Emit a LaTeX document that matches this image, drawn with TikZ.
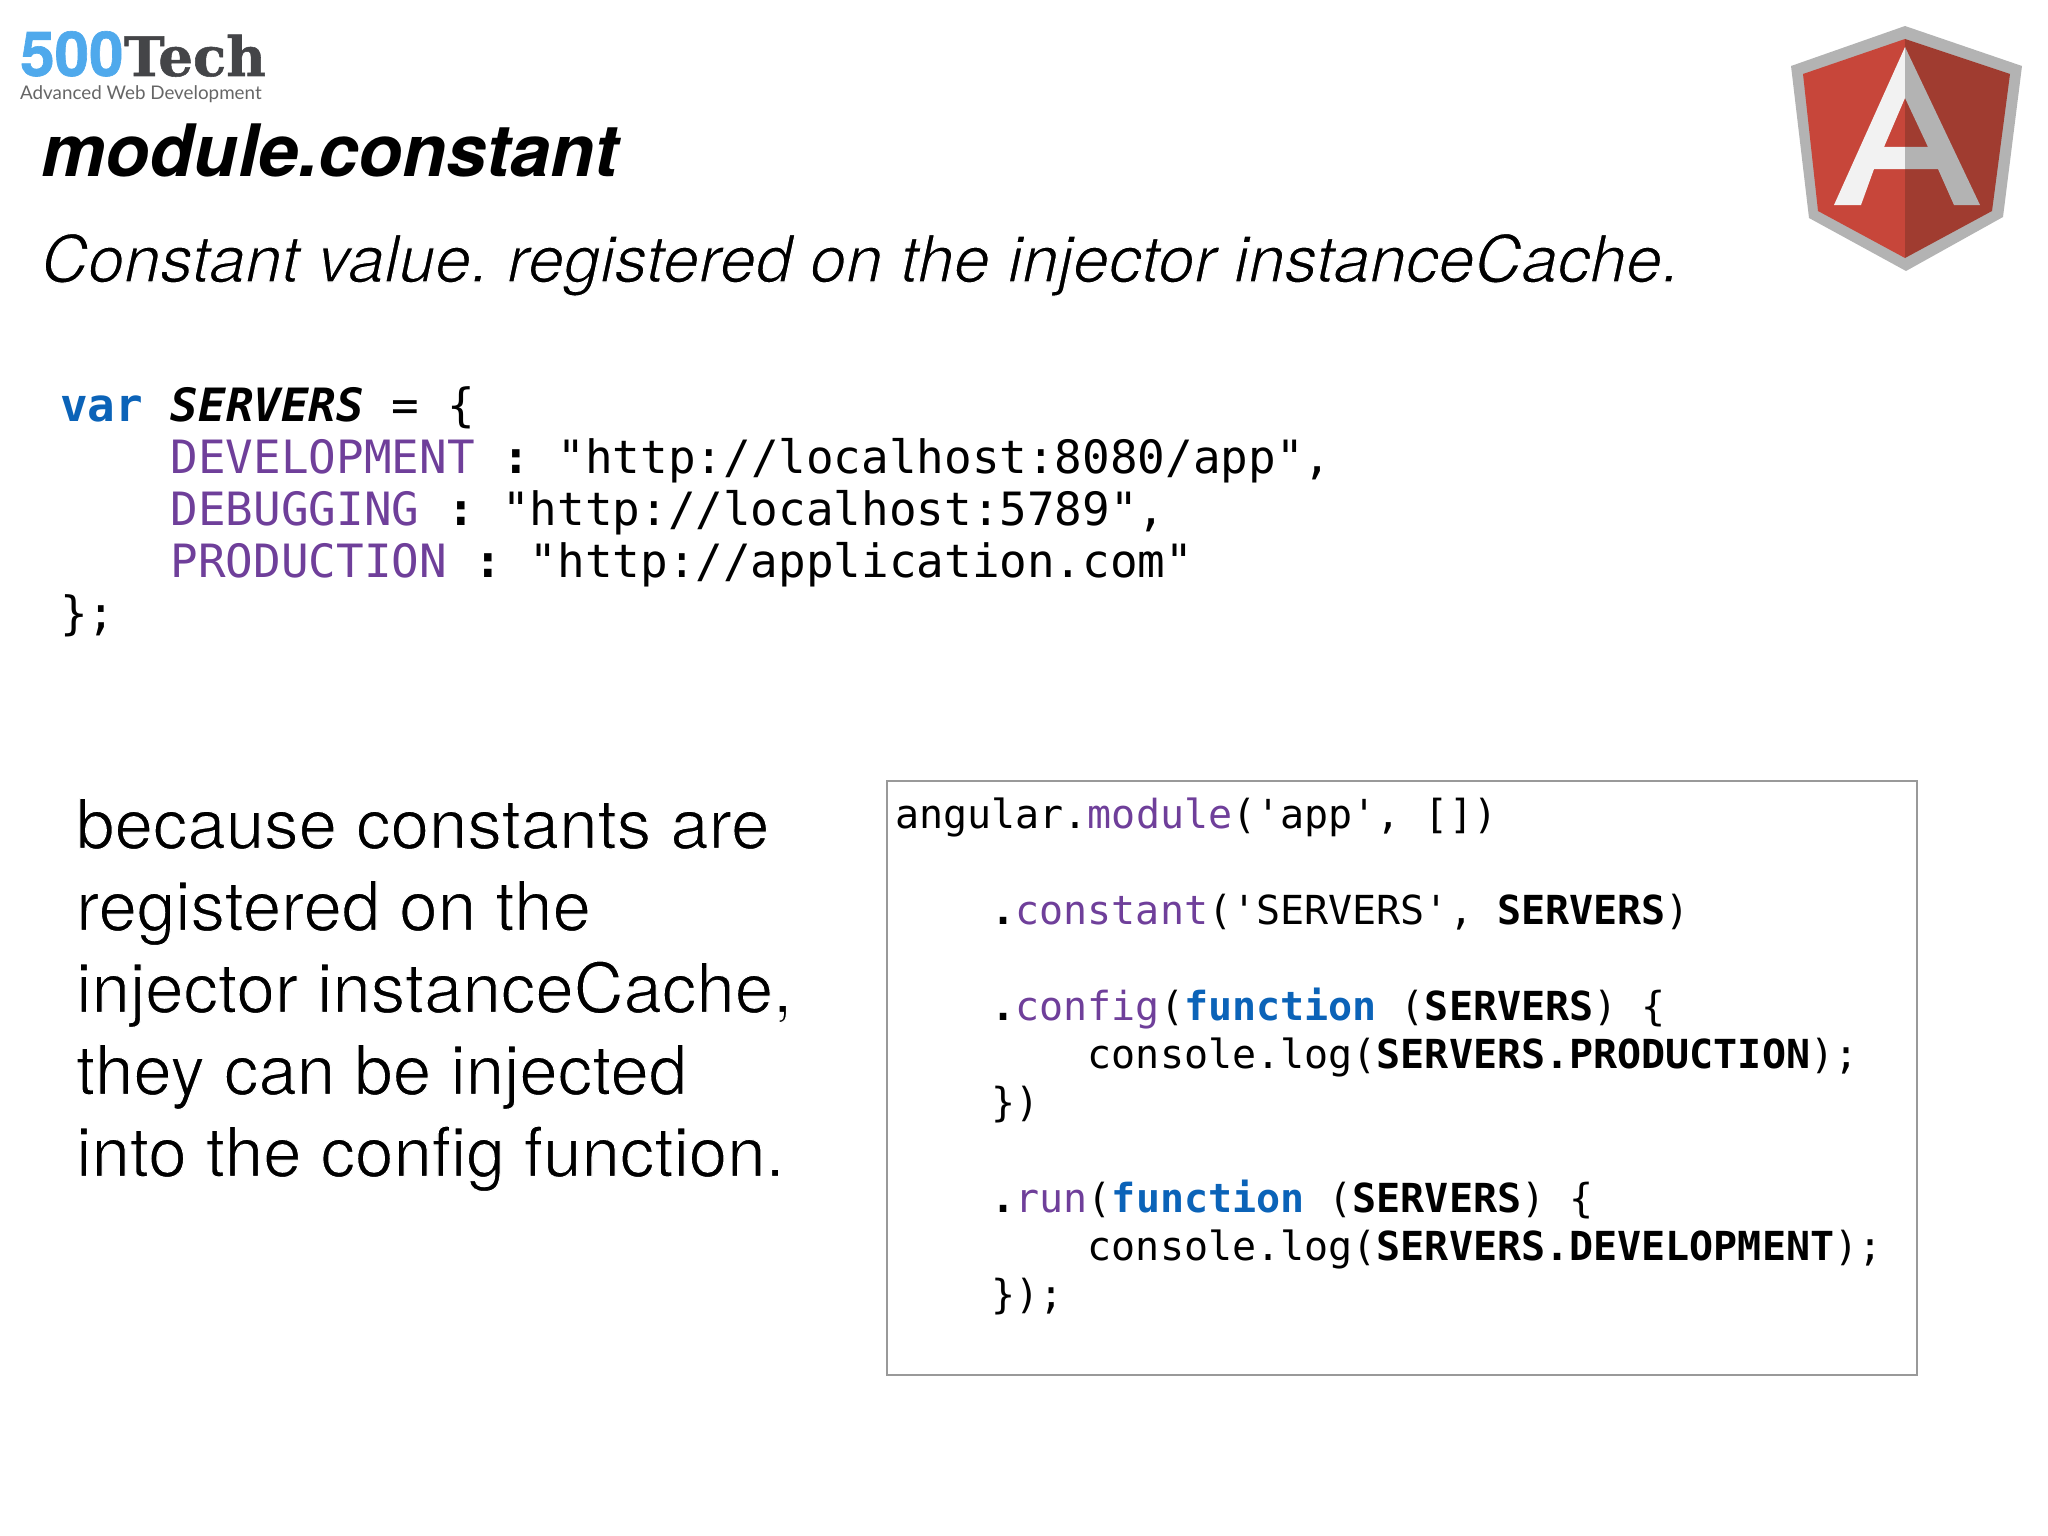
\documentclass[tikz,border=0pt]{standalone}
\usepackage{fontspec}
\setmainfont{TeX Gyre Heros}
\setmonofont{DejaVu Sans Mono}
\newfontfamily\logofont{Lato}
\newfontfamily\numfont[BoldFeatures={FakeBold=1}]{TeX Gyre Heros}
\newfontfamily\techfont[BoldFeatures={FakeBold=1}]{DejaVu Serif}
\usepackage{tikz}
\usetikzlibrary{positioning}
\definecolor{kwblue}{HTML}{0B63B8}
\definecolor{propurple}{HTML}{6F3F9A}
\definecolor{logoblue}{HTML}{4FA9EC}
\definecolor{logodark}{HTML}{444548}
\definecolor{logogrey}{HTML}{666666}
\definecolor{shieldgrey}{HTML}{B3B3B3}
\definecolor{shieldred}{HTML}{C7463A}
\definecolor{shielddark}{HTML}{A03C30}
\definecolor{shieldwhite}{HTML}{F2F2F2}
% light weight: the face is thinned by a white outline
\newcommand{\thinout}{\special{pdf:code 2 Tr 1.1 w 1 1 1 RG}}
\tikzset{txt/.style={inner sep=0pt, anchor=base west},
title/.style={txt, font=\fontsize{72.3}{72}\selectfont\bfseries\itshape},
subtitle/.style={txt, font=\fontsize{65}{65}\selectfont\itshape},
para/.style={txt, align=left, anchor=north west, font=\fontsize{69}{82}\selectfont},
bigcode/.style={txt, align=left, anchor=north west, font=\fontsize{45.9}{52}\selectfont\ttfamily},
smallcode/.style={txt, align=left, anchor=north west, font=\fontsize{40}{48}\selectfont\ttfamily},
frame/.style={rectangle, draw=black!40, line width=1.5pt, anchor=north west, minimum width=1030pt, minimum height=594pt, inner sep=0pt}}
\newcommand{\kw}[1]{\textcolor{kwblue}{\bfseries #1}}
\newcommand{\pr}[1]{\textcolor{propurple}{#1}}
\newcommand{\srv}[1]{{\bfseries #1}}
\newcommand{\tabone}{\hspace*{96.3pt}}
\newcommand{\tabtwo}{\hspace*{192.6pt}}
\newcommand{\tabbig}{\hspace*{110.5pt}}
\begin{document}
\frenchspacing
\begin{tikzpicture}[x=1pt,y=-1pt]
  \useasboundingbox (0,0) rectangle (2048,1536);

  % logo
  \node (logonum) [txt, font=\fontsize{62}{62}\selectfont\numfont\bfseries, text=logoblue] at (20,76) {500};
  \node (logotech) [txt, font=\fontsize{54.5}{54}\selectfont\techfont\bfseries, text=logodark] at (logonum.base east) {Tech};
  \node (logosub) [txt, font=\fontsize{18.8}{18.8}\selectfont\logofont, text=logogrey] at (20,100) {Advanced Web Development};

  % shield
  \fill [shieldgrey] (1905,26) -- (2022,66) -- (2003,217) -- (1906,271) -- (1809,218) -- (1791,66) -- cycle;
  \fill [shieldred] (1905,39) -- (1803,74) -- (1818,211) -- (1905,258) -- cycle;
  \fill [shielddark] (1905,39) -- (2010,74) -- (1992,211) -- (1905,258) -- cycle;
  \fill [shieldwhite] (1905,47) -- (1834,205) -- (1861,205) -- (1874,169) -- (1905,169) -- (1905,147) -- (1884,147) -- (1905,98) -- cycle;
  \fill [shieldgrey] (1905,47) -- (1980,205) -- (1954,205) -- (1938,169) -- (1905,169) -- (1905,147) -- (1928,147) -- (1905,98) -- cycle;

  \node (head) [title] at (41,176) {module.constant};
  \node (sub) [subtitle] at (41,282) {\thinout Constant value. registered on the injector instanceCache.};

  \node (servers) [bigcode] at (60,386) {\kw{var} \textbf{\textit{SERVERS}} = \{\\
    \tabbig\pr{DEVELOPMENT} \textbf{:} "http://localhost:8080/app",\\
    \tabbig\pr{DEBUGGING} \textbf{:} "http://localhost:5789",\\
    \tabbig\pr{PRODUCTION} \textbf{:} "http://application.com"\\
    \};};

  \node (because) [para] at (76,798) {\thinout because constants are\\
    \thinout registered on the\\
    \thinout injector instanceCache,\\
    \thinout they can be injected\\
    \thinout into the config function.};

  \node (codebox) [frame] at (886,780) {};
  \node (code) [smallcode, below right=18pt and 9pt of codebox.north west] {angular.\pr{module}('app', [])\\[48pt]
    \tabone\textbf{.}\pr{constant}('SERVERS', \srv{SERVERS})\\[48pt]
    \tabone\textbf{.}\pr{config}(\kw{function} (\srv{SERVERS}) \{\\
    \tabtwo console.log(\srv{SERVERS.PRODUCTION});\\
    \tabone\})\\[47.5pt]
    \tabone\textbf{.}\pr{run}(\kw{function} (\srv{SERVERS}) \{\\
    \tabtwo console.log(\srv{SERVERS.DEVELOPMENT});\\
    \tabone\});};
\end{tikzpicture}
\end{document}
